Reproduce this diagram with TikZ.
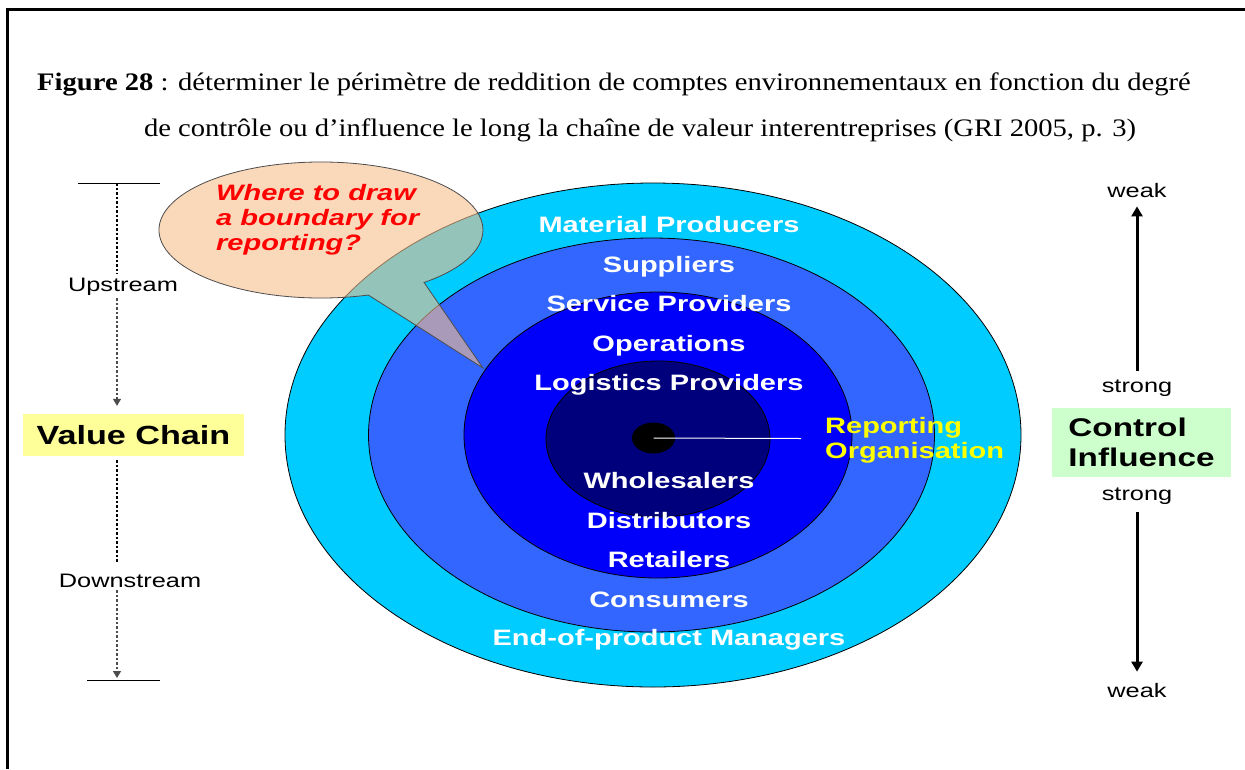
\documentclass[tikz,border=0pt]{standalone}
\usepackage{fontspec}
\setmainfont[FakeStretch=1.135]{Liberation Serif}
\setsansfont[FakeStretch=1.3]{Liberation Sans}
\usetikzlibrary{arrows.meta,shapes.geometric}

\begin{document}
\begin{tikzpicture}[x=1pt,y=-1pt,
    ring/.style={draw=black,line width=0.8pt},
    ringtext/.style={inner sep=0,anchor=base,text=white,font=\sffamily\bfseries\fontsize{22.3}{25}\selectfont},
    sidetext/.style={inner sep=3pt,anchor=base,font=\sffamily\fontsize{19.5}{22}\selectfont},
    chainline/.style={line width=1.2pt,dash pattern=on 2.5pt off 2pt},
    chaintip/.style={-{Triangle[length=7pt,width=8pt]}},
    ctrlarrow/.style={line width=3pt,-{Triangle[length=10pt,width=11pt]}}]
    \definecolor{cyanring}{RGB}{0,204,255}
    \definecolor{midring}{RGB}{51,102,255}
    \definecolor{bluering}{RGB}{0,0,250}
    \definecolor{navyring}{RGB}{0,0,125}
    \definecolor{peach}{RGB}{248,190,140}
    \definecolor{vcyellow}{RGB}{255,255,153}
    \definecolor{cigreen}{RGB}{204,255,204}
    \definecolor{repyellow}{RGB}{255,255,0}
    \useasboundingbox (0,0) rectangle (1245,769);
    \fill[white] (0,0) rectangle (1245,769);
    \draw[line width=3pt] (7,769) -- (7,9) -- (1245,9);

    % caption
    \node[inner sep=0,anchor=base west,font=\fontsize{25.2}{30}\selectfont] (cap1) at (37,90)
        {\textbf{Figure 28} : déterminer le périmètre de reddition de comptes environnementaux en fonction du degré};
    \node[inner sep=0,anchor=base,font=\fontsize{25.2}{30}\selectfont] (cap2) at (640,136)
        {de contrôle ou d’influence le long la chaîne de valeur interentreprises (GRI 2005, p. 3)};

    % rings
    \draw[ring,fill=cyanring] (653,435) ellipse [x radius=368pt,y radius=252pt];
    \draw[ring,fill=midring] (651.5,435) ellipse [x radius=283pt,y radius=197pt];
    \draw[ring,fill=bluering] (658,435) ellipse [x radius=194pt,y radius=143pt];
    \draw[ring,fill=navyring] (658,439) ellipse [x radius=112pt,y radius=78pt];

    \node[ellipse,fill=black,minimum width=43,minimum height=31,inner sep=0] (org) at (653.5,438) {};
    \coordinate (orgend) at (801,438.5);
    \draw[white,line width=1pt] (org.center) -- (orgend);

    \foreach \y/\t [count=\i] in {232/Material Producers,272/Suppliers,311/Service Providers,
        351/Operations,390/Logistics Providers,488/Wholesalers,528/Distributors,
        567/Retailers,607/Consumers,645/End-of-product Managers}
      \node[ringtext] (ring\i) at (669,\y) {\t};

    \node[inner sep=0,anchor=west,align=left,text=repyellow,
        font=\sffamily\bfseries\fontsize{22.3}{25}\selectfont] (rep) at (825,440) {Reporting\\Organisation};

    % speech bubble
    \filldraw[fill=peach,fill opacity=0.6,draw=black!70,line width=0.8pt]
        (321,230) ++(-73:162pt and 68pt) arc[start angle=-73,end angle=-410.5,x radius=162pt,y radius=68pt]
        -- (483,368) -- cycle;
    \node[inner sep=0,anchor=west,align=left,text=red,
        font=\sffamily\bfseries\itshape\fontsize{22.3}{25}\selectfont] (ask) at (216,220)
        {Where to draw\\a boundary for\\reporting?};

    % value chain
    \coordinate (vtop) at (117,183);
    \coordinate (vbot) at (117,680);
    \draw[line width=1pt] (78,183) -- (160,183);
    \draw[line width=1pt] (87,680) -- (160,680);
    \node[sidetext] (up) at (123,291) {Upstream};
    \node[fill=vcyellow,inner sep=0,minimum width=221,minimum height=42,
        font=\sffamily\bfseries\fontsize{26.3}{30}\selectfont] (vc) at (133.5,435) {Value Chain};
    \node[sidetext] (down) at (130,587) {Downstream};
    \draw[chainline] (vtop) -- (vtop |- up.north);
    \draw[chainline,black!70,chaintip,shorten >=8pt] (vtop |- up.south) -- (vtop |- vc.north);
    \draw[chainline,shorten <=4pt,shorten >=7pt] (vtop |- vc.south) -- (vtop |- down.north);
    \draw[chainline,black!70,chaintip,shorten >=2pt] (vtop |- down.south) -- (vbot);

    % control / influence
    \node[fill=cigreen,inner sep=0,minimum width=179,minimum height=69,align=left,
        font=\sffamily\bfseries\fontsize{25.6}{29.5}\selectfont] (ci) at (1141.5,442.5) {Control\\Influence};
    \node[sidetext] (weaktop) at (1137,197) {weak};
    \node[sidetext] (strongtop) at (1137,392) {strong};
    \node[sidetext] (strongbot) at (1137,500) {strong};
    \node[sidetext] (weakbot) at (1137,697) {weak};
    \draw[ctrlarrow,shorten <=5.5pt,shorten >=6pt] (strongtop) -- (weaktop);
    \draw[ctrlarrow,shorten <=5pt,shorten >=8pt] (strongbot) -- (weakbot);

\end{tikzpicture}
\end{document}
